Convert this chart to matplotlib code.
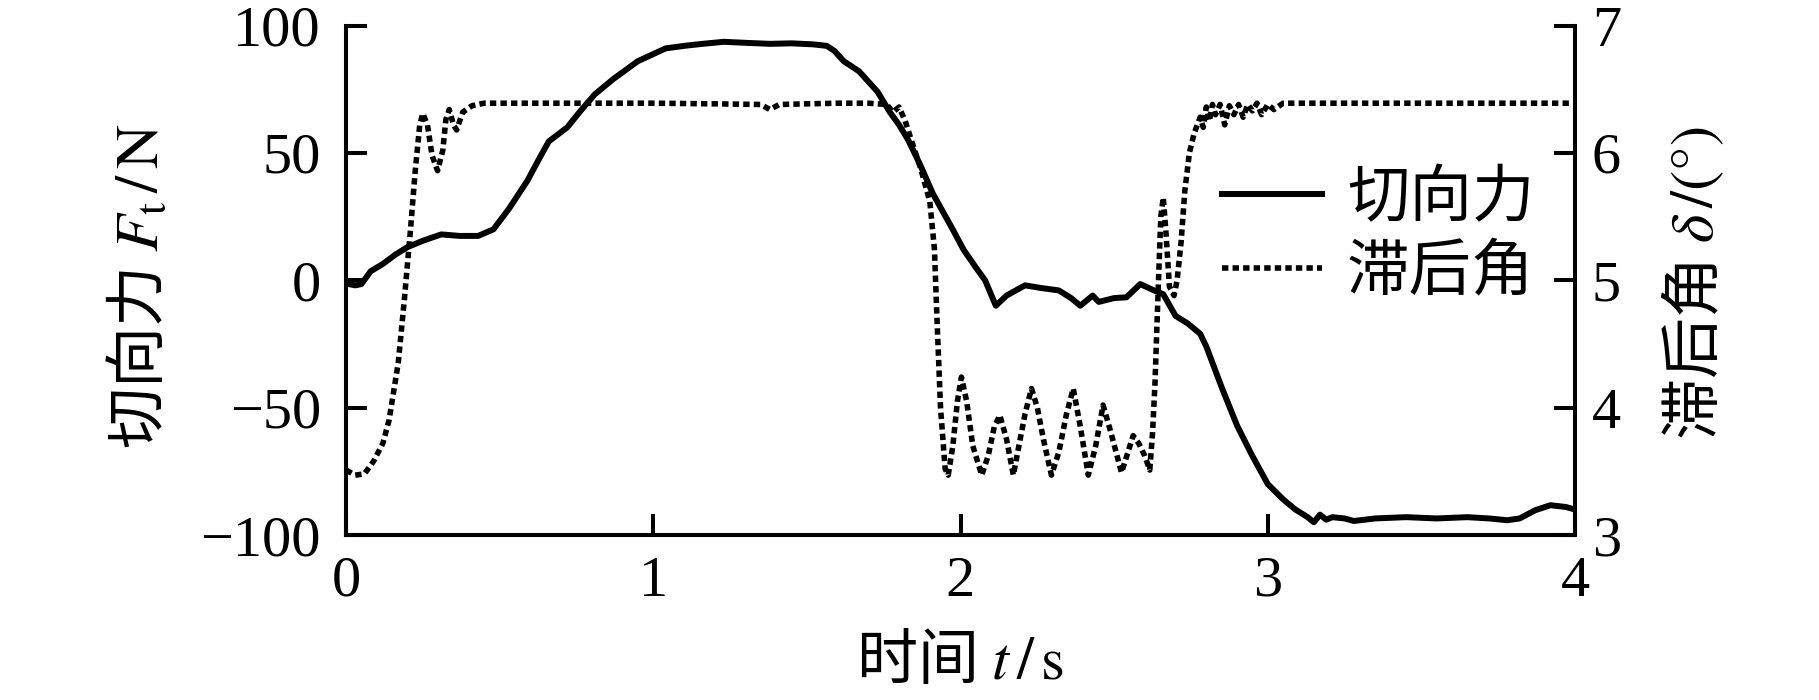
import matplotlib
matplotlib.use("Agg")
import matplotlib.pyplot as plt

plt.rcParams['font.family'] = ['Liberation Serif', 'Noto Sans CJK SC']
plt.rcParams['mathtext.fontset'] = 'stix'

# 切向力 (N)
t_force = [0.00, 0.01, 0.03, 0.05, 0.08, 0.12, 0.16, 0.20, 0.25, 0.31, 0.37, 0.43,
           0.48, 0.53, 0.59, 0.63, 0.66, 0.72, 0.76, 0.81, 0.87, 0.95, 1.04, 1.10,
           1.16, 1.23, 1.30, 1.38, 1.45, 1.52, 1.565, 1.59, 1.62, 1.67, 1.73, 1.77,
           1.80, 1.83, 1.87, 1.91, 1.97, 2.01, 2.05, 2.08, 2.115, 2.15, 2.21, 2.26,
           2.32, 2.36, 2.39, 2.43, 2.45, 2.50, 2.54, 2.585, 2.63, 2.66, 2.70, 2.74,
           2.78, 2.80, 2.85, 2.90, 2.95, 3.00, 3.05, 3.09, 3.13, 3.15, 3.17, 3.19,
           3.21, 3.25, 3.28, 3.35, 3.45, 3.55, 3.65, 3.72, 3.78, 3.82, 3.87, 3.92,
           3.97, 4.00]
force = [0, -1.5, -2, -1.5, 3.5, 6.4, 10, 13, 15.5, 18, 17.4, 17.4,
         20, 28, 39, 48, 54.5, 60, 66, 73, 79, 86, 91, 92,
         92.8, 93.6, 93.2, 92.8, 93, 92.6, 92, 90, 86, 82, 74, 66,
         61, 55, 45, 34, 21, 12, 5, 0, -10, -6, -2, -3,
         -4, -7, -10, -6, -8.5, -7, -6.7, -1.5, -4, -5.5, -14, -17,
         -21, -26, -42, -57, -69, -80, -86, -90, -93, -95, -92, -94,
         -93, -93.5, -94.5, -93.5, -93, -93.5, -93, -93.5, -94.2, -93.5, -90.3, -88.3,
         -89, -90]

# 滞后角 (°)
t_lag = [0.00, 0.03, 0.06, 0.09, 0.12, 0.14, 0.17, 0.19, 0.21, 0.225, 0.24, 0.25,
         0.265, 0.28, 0.298, 0.315, 0.325, 0.336, 0.35, 0.36, 0.38, 0.41, 0.45, 0.6,
         0.8, 1.0, 1.2, 1.35, 1.38, 1.41, 1.5, 1.6, 1.7, 1.76, 1.78, 1.80,
         1.82, 1.84, 1.87, 1.90, 1.915, 1.925, 1.935, 1.95, 1.96, 1.975, 1.99, 2.003,
         2.02, 2.04, 2.069, 2.09, 2.11, 2.128, 2.15, 2.172, 2.19, 2.21, 2.231, 2.25,
         2.27, 2.296, 2.32, 2.345, 2.367, 2.39, 2.416, 2.44, 2.464, 2.49, 2.524, 2.545,
         2.562, 2.58, 2.60, 2.616, 2.625, 2.633, 2.644, 2.652, 2.66, 2.668, 2.68, 2.695,
         2.705, 2.718, 2.73, 2.745, 2.76, 2.78, 2.79, 2.80, 2.81, 2.82, 2.83, 2.845,
         2.86, 2.875, 2.89, 2.905, 2.92, 2.935, 2.95, 2.965, 2.98, 3.00, 3.02, 3.05,
         3.10, 3.50, 4.00]
lag = [3.51, 3.47, 3.48, 3.58, 3.72, 3.90, 4.35, 4.85, 5.40, 5.85, 6.22, 6.31,
       6.22, 5.98, 5.86, 6.02, 6.26, 6.34, 6.22, 6.18, 6.32, 6.37, 6.39, 6.39,
       6.39, 6.39, 6.385, 6.38, 6.34, 6.38, 6.385, 6.39, 6.39, 6.38, 6.32, 6.36,
       6.25, 6.10, 5.88, 5.62, 5.25, 4.60, 4.00, 3.52, 3.47, 3.70, 4.05, 4.24,
       4.05, 3.70, 3.47, 3.62, 3.85, 3.94, 3.75, 3.47, 3.70, 3.95, 4.15, 4.00,
       3.75, 3.47, 3.65, 3.95, 4.15, 3.85, 3.47, 3.70, 4.02, 3.80, 3.49, 3.65,
       3.78, 3.72, 3.62, 3.51, 3.80, 4.19, 4.97, 5.50, 5.65, 5.40, 4.95, 4.88,
       5.00, 5.30, 5.70, 6.00, 6.15, 6.28, 6.20, 6.36, 6.25, 6.38, 6.30, 6.38,
       6.22, 6.37, 6.30, 6.38, 6.28, 6.38, 6.33, 6.39, 6.30, 6.38, 6.34, 6.39,
       6.39, 6.39, 6.39]

x_ticks = [0, 1, 2, 3, 4]
force_ticks = [-100, -50, 0, 50, 100]
lag_ticks = [3, 4, 5, 6, 7]

fs = 42
fs_lab = 44
lw_spine = 2.9
cjk = 'Noto Sans CJK SC'

fig = plt.figure(figsize=(18.19, 7), dpi=100)
ax = fig.add_axes([346/1819, 1-535/700, (1575-346)/1819, (535-25.5)/700])
ax2 = ax.twinx()

l1, = ax.plot(t_force, force, color='black', lw=4.3, label='切向力')
l2, = ax2.plot(t_lag, lag, color='black', lw=4.0, dashes=(1.15, 0.75),
               dash_capstyle='butt', label='滞后角')

ax.set_xlim(0, 4)
ax.set_ylim(-100, 100)
ax2.set_ylim(3, 7)
ax.set_xticks(x_ticks)
ax.set_yticks(force_ticks)
ax2.set_yticks(lag_ticks)

for a in (ax, ax2):
    a.spines['top'].set_visible(False)
    for s in a.spines.values():
        s.set_linewidth(lw_spine)
    a.tick_params(direction='in', length=15, width=lw_spine, labelsize=fs)
ax.tick_params(axis='y', pad=18)
ax.tick_params(axis='x', pad=15)
ax2.tick_params(axis='y', pad=12)

fig.text(140/1819, 1-286/700, '切向力 $F_{\\mathrm{t}}\\,/\\,\\mathrm{N}$', rotation=90,
         ha='center', va='center', fontsize=fs_lab, family=cjk)
fig.text(1694/1819, 1-283/700, '滞后角 $\\delta\\,/(°)$', rotation=90,
         ha='center', va='center', fontsize=fs_lab, family=cjk)
fig.text(960/1819, 1-662/700, '时间 $t\\,/\\,\\mathrm{s}$', ha='center', va='center',
         fontsize=fs_lab, family=cjk)

leg = ax2.legend(handles=[l1, l2], loc='upper left', frameon=False, fontsize=45,
                 bbox_to_anchor=(1222/1819, 1-172/700), bbox_transform=fig.transFigure,
                 borderpad=0, borderaxespad=0, handlelength=1.6, handletextpad=0.4,
                 labelspacing=0.25)

fig.savefig('out.png', dpi=100)
